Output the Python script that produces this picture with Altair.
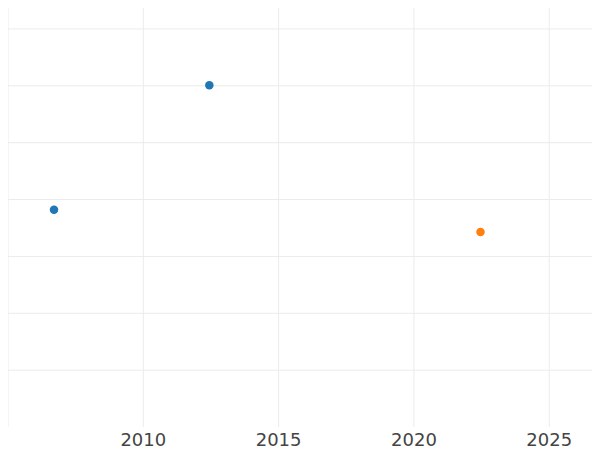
import altair as alt
import pandas as pd

# Data
years = [2006.70, 2012.44, 2022.46]
values = [38.2, 60.1, 34.3]
groups = ["A", "A", "B"]

x_grid = [2005, 2010, 2015, 2020, 2025]
x_labels = [2010, 2015, 2020, 2025]
y_grid = [10, 20, 30, 40, 50, 60, 70]

X_MIN, X_MAX = 2005.0, 2026.58
Y_MIN, Y_MAX = -4.75, 73.69
GRID_BOTTOM = 0
LABEL_Y = -0.88

pts = pd.DataFrame({"year": years, "value": values, "group": groups})
vgrid = pd.DataFrame({"year": x_grid, "value": [GRID_BOTTOM] * len(x_grid),
                      "value2": [Y_MAX] * len(x_grid)})
hgrid = pd.DataFrame({"value": y_grid, "year": [X_MIN] * len(y_grid),
                      "year2": [X_MAX] * len(y_grid)})
labs = pd.DataFrame({"year": x_labels, "value": [LABEL_Y] * len(x_labels),
                     "label": [str(v) for v in x_labels]})

xs = alt.Scale(domain=[X_MIN, X_MAX], nice=False, zero=False)
ys = alt.Scale(domain=[Y_MIN, Y_MAX], nice=False, zero=False)

grid_color = "#ebebeb"

v_rules = alt.Chart(vgrid).mark_rule(color=grid_color, strokeWidth=1).encode(
    x=alt.X("year:Q", scale=xs, axis=None),
    y=alt.Y("value:Q", scale=ys, axis=None),
    y2="value2:Q",
)

h_rules = alt.Chart(hgrid).mark_rule(color=grid_color, strokeWidth=1).encode(
    y=alt.Y("value:Q", scale=ys, axis=None),
    x=alt.X("year:Q", scale=xs, axis=None),
    x2="year2:Q",
)

points = alt.Chart(pts).mark_circle(size=72, opacity=1).encode(
    x=alt.X("year:Q", scale=xs, axis=None),
    y=alt.Y("value:Q", scale=ys, axis=None),
    color=alt.Color(
        "group:N",
        scale=alt.Scale(domain=["A", "B"], range=["#1f77b4", "#ff7f0e"]),
        legend=None,
    ),
)

labels = alt.Chart(labs).mark_text(
    font="DejaVu Sans",
    fontSize=18,
    color="#444444",
    baseline="top",
    align="center",
).encode(
    x=alt.X("year:Q", scale=xs, axis=None),
    y=alt.Y("value:Q", scale=ys, axis=None),
    text="label:N",
)

chart = (
    alt.layer(v_rules, h_rules, points, labels)
    .properties(
        width=584,
        height=446,
        padding=0,
        autosize=alt.AutoSizeParams(type="none"),
    )
    .configure_view(stroke=None)
)

chart.save("out.html", embed_options={"renderer": "svg", "actions": False})
